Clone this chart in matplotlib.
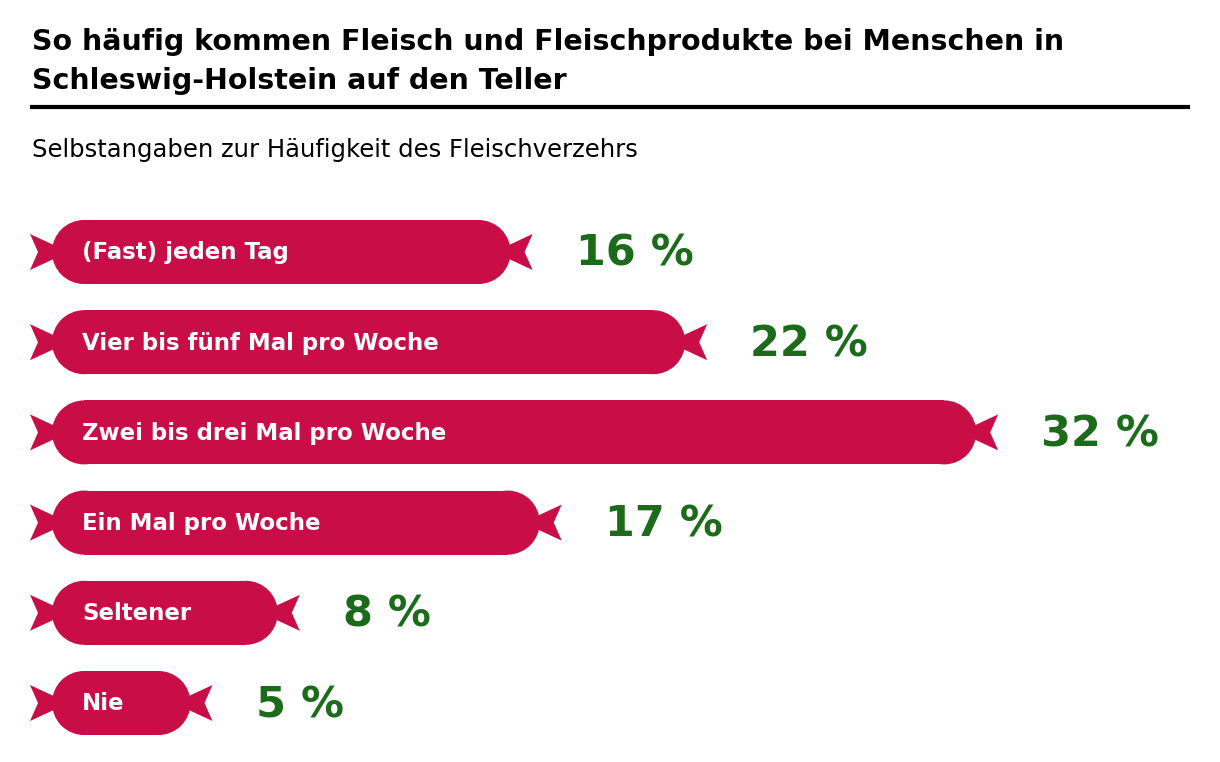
import matplotlib.pyplot as plt
from matplotlib.patches import Rectangle, Ellipse, Polygon

categories = ["(Fast) jeden Tag", "Vier bis fünf Mal pro Woche", "Zwei bis drei Mal pro Woche",
              "Ein Mal pro Woche", "Seltener", "Nie"]
values = [16, 22, 32, 17, 8, 5]
value_labels = ["16 %", "22 %", "32 %", "17 %", "8 %", "5 %"]

red = "#c80d47"
green = "#1b6b1b"
px = 29.1          # pixels per percent
base = 45          # pill end for 0 %
x0 = 52            # left edge of bars in pixels

fig = plt.figure(figsize=(12.2, 7.62), dpi=100)
ax = fig.add_axes([0, 0, 1, 1])
ax.set_xlim(0, 1220)
ax.set_ylim(762, 0)
ax.axis("off")

fig.text(32 / 1220, 1 - 28 / 762, "So häufig kommen Fleisch und Fleischprodukte bei Menschen in\nSchleswig-Holstein auf den Teller",
         fontsize=20.5, fontweight="bold", va="top", ha="left", linespacing=1.5)
ax.plot([32, 1188], [107, 107], color="black", lw=3)
ax.text(32, 150, "Selbstangaben zur Häufigkeit des Fleischverzehrs", fontsize=17.5, va="center", ha="left")

h = 64
r = h / 2
for i, (cat, v, lab) in enumerate(zip(categories, values, value_labels)):
    c = 252 + i * 90.2
    x1 = base + v * px
    ax.add_patch(Rectangle((x0 + r, c - r), x1 - x0 - 2 * r, h, color=red, lw=0))
    ax.add_patch(Ellipse((x0 + r, c), h, h, color=red, lw=0))
    ax.add_patch(Ellipse((x1 - r, c), h, h, color=red, lw=0))
    # tied ends
    ax.add_patch(Polygon([(30, c - 18), (58, c - 5), (58, c + 5), (30, c + 18), (38, c)], color=red, lw=0))
    ax.add_patch(Polygon([(x1 + 22, c - 18), (x1 - 6, c - 5), (x1 - 6, c + 5), (x1 + 22, c + 18), (x1 + 14, c)],
                         color=red, lw=0))
    ax.text(x0 + 30, c + 1, cat, color="white", fontsize=16.5, fontweight="bold", va="center", ha="left")
    ax.text(x1 + 65, c + 2, lab, color=green, fontsize=31, fontweight="bold", va="center", ha="left")

fig.savefig("out.png", dpi=100, facecolor="white")
